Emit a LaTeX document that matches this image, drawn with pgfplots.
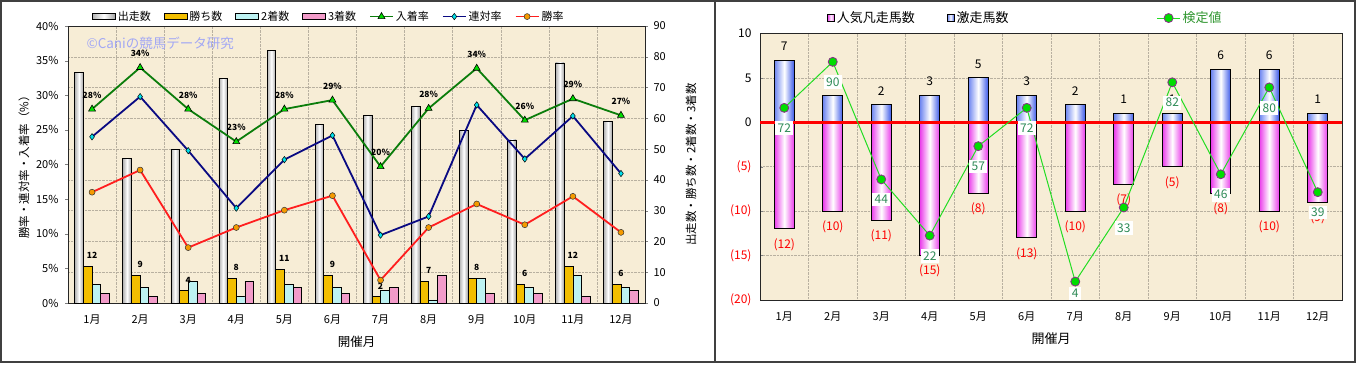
\documentclass[border=0pt]{standalone}
\usepackage{pgfplots}
\pgfplotsset{compat=1.18}
\usepackage{pgfplotstable}
\usepackage{fontspec}
\setmainfont{Noto Sans CJK JP}
\definecolor{beige}{HTML}{F7EDD6}
\definecolor{gold}{HTML}{F2BE00}
\definecolor{lcyan}{HTML}{BDF2F2}
\definecolor{lpink}{HTML}{F29BC9}
\definecolor{dgreen}{HTML}{0B7D0B}
\definecolor{bgreen}{HTML}{00DD00}
\definecolor{navym}{HTML}{0A0A82}
\definecolor{cyanm}{HTML}{00E0EC}
\definecolor{lred}{HTML}{FF1E1E}
\definecolor{orangem}{HTML}{F59A00}
\definecolor{wm}{HTML}{A3A8F4}
\definecolor{bluebar}{HTML}{3A58E8}
\definecolor{bluebarl}{HTML}{6C84F0}
\definecolor{pinkbar}{HTML}{EA3CEA}
\definecolor{kgreen}{HTML}{22DD22}
\definecolor{kpurple}{HTML}{8A2D8A}
\definecolor{ktext}{HTML}{2E8B57}
\definecolor{legreen}{HTML}{2F962F}
\definecolor{gridc}{HTML}{B8B0A0}
\newcommand{\fs}[1]{\fontsize{#1}{#1}\selectfont}
\pgfplotsset{
  /pgf/number format/assume math mode=true,
  barleg/.style={legend image code/.code={\draw[##1,line width=0.7pt] (0pt,-3pt) rectangle (23pt,3pt);}},
  sqleg/.style={legend image code/.code={\draw[##1,line width=0.7pt] (0pt,-3.5pt) rectangle (7pt,3.5pt);}},
  lineleg/.style={legend image code/.code={\draw[mark repeat=2,mark phase=2,##1] plot coordinates {(0pt,0pt) (11.5pt,0pt) (23pt,0pt)};}},
  runsbar/.style={draw=black, line width=0.7pt, left color=gray!60, right color=gray!75, middle color=white},
  negbar/.style={draw=black, line width=1pt, left color=pinkbar, right color=pinkbar, middle color=white},
  posbar/.style={draw=black, line width=1pt, left color=bluebarl, right color=bluebar, middle color=white},
}
\tikzset{klabel/.style={anchor=north, fill=white, text=ktext, inner xsep=2.5pt, inner ysep=2.5pt, font=\fs{12}}}

% month, runs, wins, 2nd, 3rd
\pgfplotstableread{
m runs wins second third
1 75 12 6 3
2 47 9 5 2
3 50 4 7 3
4 73 8 2 7
5 82 11 6 5
6 58 9 5 3
7 61 2 4 5
8 64 7 1 9
9 56 8 8 3
10 53 6 5 3
11 78 12 9 2
12 59 6 5 4
}\leftdata
% month, 人気凡走 (negative), label, 激走
\pgfplotstableread{
m neg neglab pos
1 -12 (12) 7
2 -10 (10) 3
3 -11 (11) 2
4 -15 (15) 3
5 -8 (8) 5
6 -13 (13) 3
7 -10 (10) 2
8 -7 (7) 1
9 -5 (5) 1
10 -8 (8) 6
11 -10 (10) 6
12 -9 (9) 1
}\rightdata

\begin{document}
\begin{tikzpicture}[x=1pt,y=1pt]
\useasboundingbox (0,0) rectangle (1357,366);
\fill[white] (0,0) rectangle (1357,366);

% ---------------- Left panel: bars (right axis) ----------------
\begin{axis}[
  at={(68pt,63pt)}, anchor=south west, scale only axis,
  width=577pt, height=277pt,
  xmin=0.5, xmax=12.5, ymin=0, ymax=90,
  axis background/.style={fill=beige},
  axis line style={black!85, line width=0.8pt},
  ytick={0,10,...,90}, ytick pos=right, yticklabel pos=right,
  xtick={1,...,12},
  xticklabels={1月,2月,3月,4月,5月,6月,7月,8月,9月,10月,11月,12月},
  major x tick style={draw=none},
  minor xtick={0.5,1.5,...,12.5}, minor tick length=0pt,
  xminorgrids=true, ymajorgrids=true,
  major grid style={gridc, densely dotted, line width=0.5pt},
  minor grid style={gridc, densely dotted, line width=0.5pt},
  tick align=outside, major tick length=3pt,
  tick label style={font=\fs{11}},
  yticklabel style={xshift=2pt},
  xticklabel style={yshift=-5pt, font=\fs{11}},
  ylabel={出走数・勝ち数・2着数・3着数},
  every axis y label/.style={at={(rel axis cs:1,0.5)}, xshift=46pt, rotate=90, anchor=center, font=\fs{11.5}},
  xlabel={開催月},
  every axis x label/.style={at={(rel axis cs:0.5,0)}, yshift=-39pt, anchor=center, font=\fs{12.5}},
  bar width=0.18, clip=false,
]
\pgfplotsinvokeforeach{1,...,12}{
  \addplot[ybar, bar shift=-0.27, runsbar, forget plot, restrict x to domain=#1:#1] table[x=m, y=runs] {\leftdata};
}
\addplot[ybar, bar shift=-0.09, draw=black, line width=0.7pt, fill=gold, forget plot,
  nodes near coords, nodes near coords style={font=\bfseries\fs{8.5}, text=black, anchor=south, yshift=4pt}]
 table[x=m, y=wins] {\leftdata};
\addplot[ybar, bar shift=0.09, draw=black, line width=0.7pt, fill=lcyan, forget plot]
 table[x=m, y=second] {\leftdata};
\addplot[ybar, bar shift=0.27, draw=black, line width=0.7pt, fill=lpink, forget plot]
 table[x=m, y=third] {\leftdata};
\end{axis}

% ---------------- Left panel: rates (left axis) ----------------
\begin{axis}[
  at={(68pt,63pt)}, anchor=south west, scale only axis,
  width=577pt, height=277pt,
  xmin=0.5, xmax=12.5, ymin=0, ymax=40,
  axis x line=none, axis y line*=left,
  axis line style={black!85, line width=0.8pt},
  ytick={0,5,...,40}, yticklabel={\pgfmathprintnumber{\tick}\%},
  tick align=outside, major tick length=3pt,
  tick label style={font=\fs{11}},
  yticklabel style={xshift=-3pt},
  ylabel={勝率・連対率・入着率（\%）},
  every axis y label/.style={at={(rel axis cs:0,0.5)}, xshift=-44pt, rotate=90, anchor=center, font=\fs{11.5}},
  clip=false,
  legend style={at={(0.452,1.034)}, anchor=center, draw=none, fill=none, font=\fs{11},
    legend columns=-1, /tikz/every even column/.append style={column sep=11pt}},
]
\node[anchor=west, text=wm, font=\fs{13.5}] at (rel axis cs:0.026,0.939) {©Caniの競馬データ研究};
\addlegendimage{barleg, runsbar}
\addlegendentry{出走数}
\addlegendimage{barleg, draw=black, fill=gold}
\addlegendentry{勝ち数}
\addlegendimage{barleg, draw=black, fill=lcyan}
\addlegendentry{2着数}
\addlegendimage{barleg, draw=black, fill=lpink}
\addlegendentry{3着数}
\addplot[dgreen, line width=1.8pt, mark=triangle*, mark size=4pt,
  mark options={fill=bgreen, draw=black, line width=0.6pt}, lineleg,
  nodes near coords, point meta=explicit symbolic,
  nodes near coords style={font=\bfseries\fs{8.5}, text=black, anchor=south, yshift=7pt}]
 coordinates {(1,28.0) [28\%] (2,34.0) [34\%] (3,28.0) [28\%] (4,23.3) [23\%] (5,28.0) [28\%] (6,29.3) [29\%]
  (7,19.7) [20\%] (8,28.1) [28\%] (9,33.9) [34\%] (10,26.4) [26\%] (11,29.5) [29\%] (12,27.1) [27\%]};
\addlegendentry{入着率}
\addplot[navym, line width=1.8pt, mark=diamond*, mark size=3.2pt,
  mark options={fill=cyanm, draw=black, line width=0.5pt}, lineleg]
 coordinates {(1,24.0) (2,29.8) (3,22.0) (4,13.7) (5,20.7) (6,24.2) (7,9.8) (8,12.5) (9,28.6) (10,20.8) (11,27.0) (12,18.7)};
\addlegendentry{連対率}
\addplot[lred, line width=1.8pt, mark=*, mark size=3pt,
  mark options={fill=orangem, draw=black!80, line width=0.5pt}, lineleg]
 coordinates {(1,16.0) (2,19.2) (3,8.0) (4,10.9) (5,13.4) (6,15.5) (7,3.3) (8,10.9) (9,14.3) (10,11.3) (11,15.4) (12,10.2)};
\addlegendentry{勝率}
\end{axis}

% ---------------- Right panel: bars ----------------
\begin{axis}[
  at={(760pt,66pt)}, anchor=south west, scale only axis,
  width=582pt, height=266.5pt,
  xmin=0.5, xmax=12.5, ymin=-20, ymax=10,
  axis background/.style={fill=beige},
  axis line style={black!85, line width=0.8pt},
  ytick={-20,-15,...,10},
  yticklabels={{\color{red}(20)},{\color{red}(15)},{\color{red}(10)},{\color{red}(5)},0,5,10},
  ytick pos=left,
  xtick={1,...,12},
  xticklabels={1月,2月,3月,4月,5月,6月,7月,8月,9月,10月,11月,12月},
  major x tick style={draw=none},
  minor xtick={0.5,1.5,...,12.5}, minor tick length=0pt,
  xminorgrids=true, ymajorgrids=true,
  major grid style={gridc, densely dotted, line width=0.5pt},
  minor grid style={gridc, densely dotted, line width=0.5pt},
  tick align=inside, major tick length=3pt,
  tick label style={font=\fs{12}},
  yticklabel style={xshift=-5pt},
  xticklabel style={yshift=-8pt, font=\fs{11}},
  xlabel={開催月},
  every axis x label/.style={at={(rel axis cs:0.5,0)}, yshift=-39pt, anchor=center, font=\fs{13}},
  bar width=0.412, clip=false,
  legend style={at={(0.273,1.058)}, anchor=center, draw=none, fill=none, font=\fs{13},
    legend columns=-1, /tikz/every even column/.append style={column sep=30pt}},
]
\pgfplotsinvokeforeach{1,...,12}{
  \addplot[ybar, bar shift=0pt, negbar, forget plot, restrict x to domain=#1:#1] table[x=m, y=neg] {\rightdata};
  \addplot[ybar, bar shift=0pt, posbar, forget plot, restrict x to domain=#1:#1] table[x=m, y=pos] {\rightdata};
}
\addplot[draw=none, forget plot, nodes near coords, point meta=explicit symbolic,
  nodes near coords style={text=red, anchor=north, yshift=-6pt, font=\fs{12}}]
 table[x=m, y=neg, meta=neglab] {\rightdata};
\addplot[draw=none, forget plot, nodes near coords, point meta=y,
  nodes near coords style={text=black, anchor=south, yshift=6pt, font=\fs{12}}]
 table[x=m, y=pos] {\rightdata};
\addlegendimage{sqleg, negbar}
\addlegendentry{人気凡走馬数}
\addlegendimage{sqleg, posbar}
\addlegendentry{激走馬数}
\addplot[red, line width=2.5pt, forget plot] coordinates {(0.5,0) (12.5,0)};
\end{axis}

% ---------------- Right panel: 検定値 ----------------
\begin{axis}[
  at={(760pt,66pt)}, anchor=south west, scale only axis,
  width=582pt, height=266.5pt,
  xmin=0.5, xmax=12.5, ymin=-3.2, ymax=101.1,
  hide axis, clip=false,
  legend style={at={(0.739,1.058)}, anchor=center, draw=none, fill=none, font=\fs{13}, text=legreen},
]
\addplot[kgreen, line width=1pt, mark=*, mark size=4.5pt,
  mark options={fill=bgreen, draw=kpurple, line width=0.8pt}, lineleg,
  nodes near coords, point meta=explicit symbolic,
  nodes near coords style={klabel, yshift=-13pt}]
 coordinates {(1,72) [72] (2,90) [90] (3,44) [44] (4,22) [22] (5,57) [57] (6,72) [72]
  (7,4) [\mbox{}] (8,33) [33] (9,82) [82] (10,46) [46] (11,80) [80] (12,39) [39]};
\addlegendentry{検定値}
\addplot[draw=none, mark=none, forget plot,
  nodes near coords, point meta=explicit symbolic,
  nodes near coords style={klabel, yshift=-5pt}]
 coordinates {(7,4) [4]};
\end{axis}

\draw[line width=1.2pt, black!75] (1,4) rectangle (715,365);
\draw[line width=1.2pt, black!75] (715,4) rectangle (1355,365);
\end{tikzpicture}
\end{document}
